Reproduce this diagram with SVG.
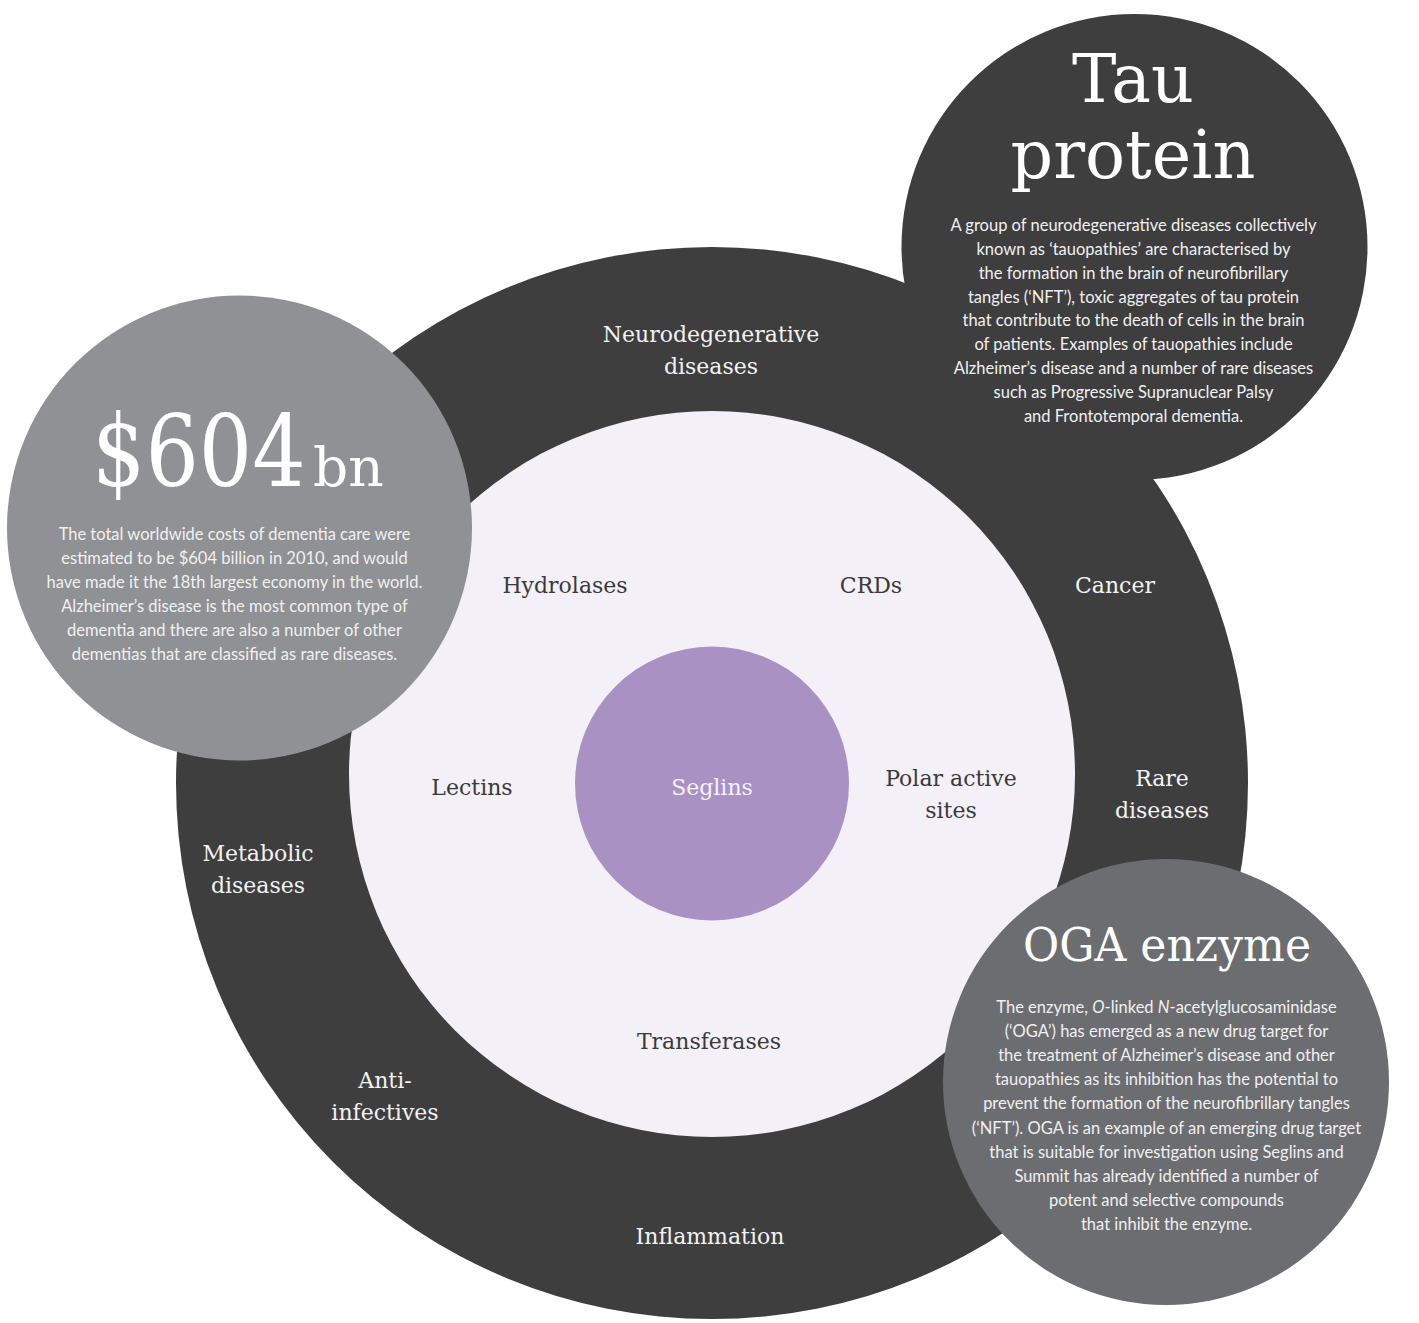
<svg xmlns="http://www.w3.org/2000/svg" width="1419" height="1323" viewBox="0 0 1419 1323">
  <style>
    .label { font-family: "DejaVu Serif", "Liberation Serif", serif; font-size: 22px; text-anchor: middle; }
    .on-dark { fill: #f2f2f2; }
    .on-light { fill: #3a3a3b; }
    .body { font-family: Lato, "Open Sans", "Liberation Sans", sans-serif; font-size: 16.5px; text-anchor: middle; fill: #f0f0f0; }
    .title { font-family: "DejaVu Serif", "Liberation Serif", serif; fill: #ffffff; text-anchor: middle; }
    .title.left { text-anchor: start; }
  </style>
  <rect width="1419" height="1323" fill="#ffffff"/>

  <!-- concentric rings -->
  <g id="ring-diseases">
    <circle cx="712" cy="783" r="536" fill="#3e3e3f"/>
  </g>
  <g id="ring-targets">
    <circle cx="712" cy="774" r="363" fill="#f3f0f7"/>
  </g>
  <g id="core-seglins">
    <circle cx="712" cy="783.5" r="137" fill="#a991c3"/>
    <text class="label" x="712" y="795" fill="#f6f2fa">Seglins</text>
  </g>

  <!-- disease areas on the outer ring -->
  <g id="label-neurodegenerative" class="label on-dark">
    <text x="711" y="342">Neurodegenerative</text>
    <text x="711" y="374">diseases</text>
  </g>
  <g id="label-cancer" class="label on-dark"><text x="1115" y="593">Cancer</text></g>
  <g id="label-rare" class="label on-dark">
    <text x="1162" y="786">Rare</text>
    <text x="1162" y="818">diseases</text>
  </g>
  <g id="label-metabolic" class="label on-dark">
    <text x="258" y="861">Metabolic</text>
    <text x="258" y="893">diseases</text>
  </g>
  <g id="label-antiinfectives" class="label on-dark">
    <text x="385" y="1088">Anti-</text>
    <text x="385" y="1120">infectives</text>
  </g>
  <g id="label-inflammation" class="label on-dark"><text x="710" y="1244">Inflammation</text></g>

  <!-- target classes on the inner disc -->
  <g id="label-hydrolases" class="label on-light"><text x="565" y="593">Hydrolases</text></g>
  <g id="label-crds" class="label on-light"><text x="871" y="593">CRDs</text></g>
  <g id="label-lectins" class="label on-light"><text x="472" y="795">Lectins</text></g>
  <g id="label-polar" class="label on-light">
    <text x="951" y="786">Polar active</text>
    <text x="951" y="818">sites</text>
  </g>
  <g id="label-transferases" class="label on-light"><text x="709" y="1049">Transferases</text></g>

  <!-- callout: tau protein -->
  <g id="callout-tau">
    <circle cx="1134.5" cy="247" r="233" fill="#3e3e3f"/>
    <text class="title" x="1133" y="102" font-size="67" textLength="122" lengthAdjust="spacingAndGlyphs">Tau</text>
    <text class="title" x="1133" y="178" font-size="67" textLength="245" lengthAdjust="spacingAndGlyphs">protein</text>
    <g class="body">
      <text x="1133.5" y="231">A group of neurodegenerative diseases collectively</text>
      <text x="1133.5" y="254.8">known as ‘tauopathies’ are characterised by</text>
      <text x="1133.5" y="278.7">the formation in the brain of neurofibrillary</text>
      <text x="1133.5" y="302.5">tangles (‘NFT’), toxic aggregates of tau protein</text>
      <text x="1133.5" y="326.4">that contribute to the death of cells in the brain</text>
      <text x="1133.5" y="350.2">of patients. Examples of tauopathies include</text>
      <text x="1133.5" y="374.1">Alzheimer’s disease and a number of rare diseases</text>
      <text x="1133.5" y="397.9">such as Progressive Supranuclear Palsy</text>
      <text x="1133.5" y="421.8">and Frontotemporal dementia.</text>
    </g>
  </g>

  <!-- callout: cost of dementia -->
  <g id="callout-cost">
    <circle cx="239.5" cy="528" r="232.5" fill="#909195"/>
    <!-- tall, narrow figures: condensed by a vertical stretch -->
    <text class="title left" transform="translate(92 486) scale(1 1.18)" x="0" y="0" font-size="84">$604</text>
    <text class="title left" x="313" y="486" font-size="55">bn</text>
    <g class="body">
      <text x="234.5" y="540">The total worldwide costs of dementia care were</text>
      <text x="234.5" y="564">estimated to be $604 billion in 2010, and would</text>
      <text x="234.5" y="588">have made it the 18th largest economy in the world.</text>
      <text x="234.5" y="612">Alzheimer’s disease is the most common type of</text>
      <text x="234.5" y="636">dementia and there are also a number of other</text>
      <text x="234.5" y="660">dementias that are classified as rare diseases.</text>
    </g>
  </g>

  <!-- callout: OGA enzyme -->
  <g id="callout-oga">
    <circle cx="1166" cy="1082" r="223" fill="#6c6d71"/>
    <text class="title" x="1167" y="961" font-size="47" textLength="288" lengthAdjust="spacingAndGlyphs">OGA enzyme</text>
    <g class="body">
      <text x="1166.5" y="1013">The enzyme, <tspan font-style="italic">O</tspan>-linked <tspan font-style="italic">N</tspan>-acetylglucosaminidase</text>
      <text x="1166.5" y="1037.1">(‘OGA’) has emerged as a new drug target for</text>
      <text x="1166.5" y="1061.2">the treatment of Alzheimer’s disease and other</text>
      <text x="1166.5" y="1085.3">tauopathies as its inhibition has the potential to</text>
      <text x="1166.5" y="1109.4">prevent the formation of the neurofibrillary tangles</text>
      <text x="1166.5" y="1133.5">(‘NFT’). OGA is an example of an emerging drug target</text>
      <text x="1166.5" y="1157.6">that is suitable for investigation using Seglins and</text>
      <text x="1166.5" y="1181.7">Summit has already identified a number of</text>
      <text x="1166.5" y="1205.8">potent and selective compounds</text>
      <text x="1166.5" y="1229.9">that inhibit the enzyme.</text>
    </g>
  </g>
</svg>
